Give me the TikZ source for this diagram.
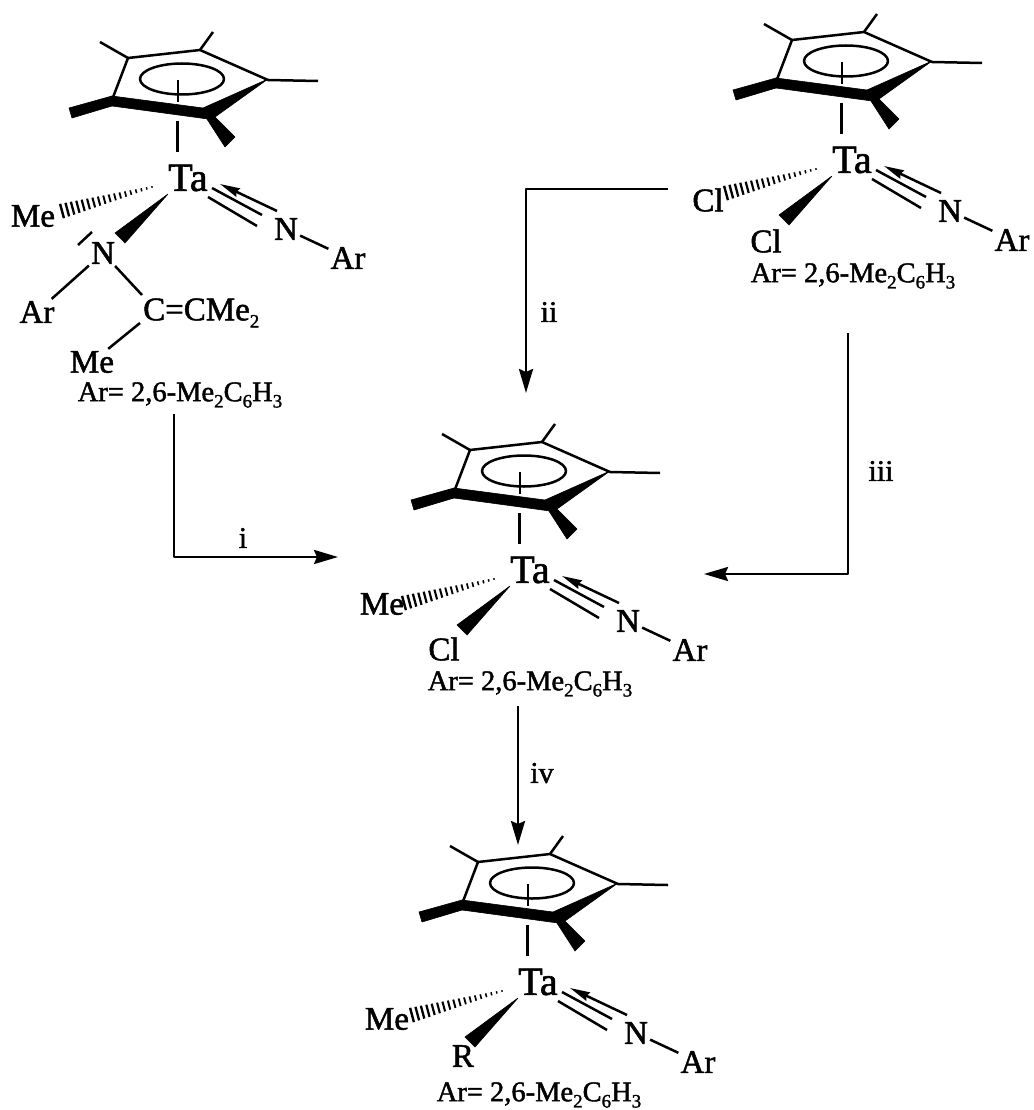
\documentclass[tikz,border=0pt]{standalone}
\usepackage{fontspec}
\setmainfont{Liberation Serif}[BoldFont={Liberation Serif},BoldFeatures={FakeBold=1.5}]
\usetikzlibrary{arrows.meta}
\tikzset{
  thinbond/.style={line width=2.5pt,line cap=butt,line join=round,black},
  atom/.style={font=\fontsize{33}{33}\selectfont\bfseries,inner sep=2pt,text=black},
  metal/.style={font=\fontsize{40}{40}\selectfont\bfseries,inner sep=0pt,text=black},
  note/.style={font=\fontsize{28.5}{28.5}\selectfont\bfseries,inner sep=0pt,text=black},
  tag/.style={font=\fontsize{30}{30}\selectfont\bfseries,inner sep=0pt,text=black},
  rxn/.style={line width=2.7pt,line join=round,black,-{Stealth[length=24pt,width=14pt,inset=3pt]}},
  wedgefill/.style={fill=black,draw=black,line width=0.6pt,line join=round},
}
\newcommand{\sbs}[1]{\raisebox{-0.22em}{\fontsize{19}{19}\selectfont #1}}
\newcommand{\arnote}{Ar= 2,6-Me\sbs{2}C\sbs{6}H\sbs{3}}
% #1 name, #2 x, #3 y of the Ta atom
\newcommand{\tacore}[3]{%
  \node[metal] (#1Ta) at (#2,#3) {Ta};
  \begin{scope}[shift={(#2,#3)},y=1pt]
    \draw[thinbond] (-76,78) -- (-60,120) -- (12,128) -- (80,98);
    \draw[thinbond] (-60,120) -- (-88,136);
    \draw[thinbond] (12,128) -- (25,146);
    \draw[thinbond] (80,98) -- (130,97);
    \draw[thinbond] (-6,99) ellipse [x radius=42,y radius=15.5];
    \draw[thinbond] (-10,98) -- (-10,76);
    \draw[thinbond] (-10.7,57) -- (-10.7,26);
    \path[wedgefill] (-76,82) -- (15,70) -- (80,99) -- (27,61) -- (20,59) -- (-76,72) -- cycle;
    \path[wedgefill] (-119,70) -- (-76,82) -- (-76,72) -- (-116,60) -- cycle;
    \path[wedgefill] (17,62) -- (27,61) -- (47,41) -- (37,31) -- cycle;
    \path[wedgefill] (-20,-16) -- (-73,-55) -- (-63,-65) -- cycle;
    \coordinate (#1a1) at (89,-33); \coordinate (#1a2) at (32,-6);
    \coordinate (#1b1) at (74,-37); \coordinate (#1b2) at (24,-10);
    \coordinate (#1c1) at (69,-48); \coordinate (#1c2) at (20,-19);
    \draw[thinbond,-{Stealth[length=20pt,width=9pt,inset=2pt]}] (#1a1) -- (#1a2);
    \draw[thinbond] (#1b1) -- (#1b2);
    \draw[thinbond] (#1c1) -- (#1c2);
    \foreach \i in {0,...,17}{
      \pgfmathsetmacro{\tt}{\i/17}
      \pgfmathsetmacro{\hx}{-36-90*\tt}
      \pgfmathsetmacro{\hy}{-9-24*\tt}
      \pgfmathsetmacro{\hl}{0.8+6.6*\tt}
      \pgfmathsetmacro{\hw}{1.4+1.0*\tt}
      \draw[line width=\hw pt,black] (\hx+0.26*\hl,\hy-0.97*\hl) -- (\hx-0.26*\hl,\hy+0.97*\hl);
    }
  \end{scope}
  \node[atom] (#1N) at (#2+98,#3+51) {N};
  \node[atom] (#1Ar) at (#2+160,#3+80) {Ar};
  \draw[thinbond] (#1N) -- (#1Ar);
}
\begin{document}
\begin{tikzpicture}[x=1pt,y=-1pt]
\useasboundingbox (0,0) rectangle (1033,1110);
\fill[white] (0,0) rectangle (1033,1110);

% top-left complex
\tacore{p}{188}{178}
\node[atom] (pMe) at (33,216) {Me};
\node[atom] (pNb) at (103,253) {N};
\node[atom] (pArb) at (37,312) {Ar};
\node[atom,anchor=west,inner sep=0pt] (pC) at (143,313) {C=CMe\sbs{2}};
\node[atom] (pMeb) at (92,362) {Me};
\node[note] (pnote) at (180,395) {\arnote};
\coordinate (pdash1) at (92,232); \coordinate (pdash2) at (78,245);
\draw[thinbond] (pdash1) -- (pdash2);
\draw[thinbond] (pNb) -- (pArb);
\coordinate (pCa) at (142,295); \coordinate (pCb) at (140,323);
\draw[thinbond] (pNb) -- (pCa);
\draw[thinbond] (pCb) -- (pMeb);

% top-right complex
\tacore{q}{852}{160}
\node[atom,inner sep=0pt] (qCla) at (708,200) {Cl};
\node[atom,inner sep=0pt] (qClb) at (766,241) {Cl};
\node[note] (qnote) at (853,276) {\arnote};

% centre complex
\tacore{c}{530}{570}
\node[atom] (cMe) at (382,604) {Me};
\node[atom,inner sep=0pt] (cCl) at (444,649) {Cl};
\node[note] (cnote) at (530,684) {\arnote};

% bottom complex
\tacore{d}{538}{982}
\node[atom] (dMe) at (387,1019) {Me};
\node[atom,inner sep=0pt] (dR) at (463,1056) {R};
\node[note] (dnote) at (539,1095) {\arnote};

% reaction arrows
\coordinate (i1) at (174,414); \coordinate (i2) at (338,557);
\draw[rxn] (i1) |- (i2);
\node[tag] (li) at (243,538) {i};
\coordinate (ii1) at (668,189); \coordinate (ii2) at (526,393);
\draw[rxn] (ii1) -| (ii2);
\node[tag] (lii) at (549,312) {ii};
\coordinate (iii1) at (848,333); \coordinate (iii2) at (704,574);
\draw[rxn] (iii1) |- (iii2);
\node[tag] (liii) at (881,471) {iii};
\coordinate (iv1) at (518,706); \coordinate (iv2) at (518,845);
\draw[rxn] (iv1) -- (iv2);
\node[tag] (liv) at (542,773) {iv};
\end{tikzpicture}
\end{document}
